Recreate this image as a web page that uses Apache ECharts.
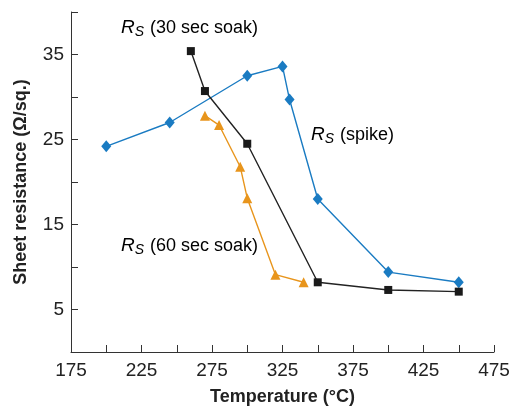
<!DOCTYPE html>
<html>
<head>
<meta charset="utf-8">
<script src="https://cdn.jsdelivr.net/npm/echarts@6/dist/echarts.min.js"></script>
<style>
  html, body { margin: 0; padding: 0; background: #fff; }
  #chart_1 { width: 511px; height: 413px; }
</style>
</head>
<body>
<div id="chart_1"></div>
<script>
// 数据 (温度 °C, 方块电阻 Ω/sq.)
var spikeX = [200, 245, 300, 325, 330, 350, 400, 450];
var spikeY = [24.2, 27.0, 32.5, 33.6, 29.7, 18.0, 9.4, 8.2];

var soak30X = [260, 270, 300, 350, 400, 450];
var soak30Y = [35.4, 30.7, 24.5, 8.2, 7.3, 7.1];

var soak60X = [270, 280, 295, 300, 320, 340];
var soak60Y = [27.8, 26.7, 21.8, 18.1, 9.1, 8.2];

var xTickLabels = [175, 225, 275, 325, 375, 425, 475];
var yTickLabels = [5, 15, 25, 35];

var FONT = "'Liberation Sans', Arial, sans-serif";

function pairs(xs, ys) {
  return xs.map(function (x, i) { return [x, ys[i]]; });
}

var myChart = echarts.init(document.getElementById('chart_1'));

var axisCommon = {
  axisLine: { show: true, lineStyle: { color: '#333', width: 1 } },
  axisTick: { show: true, inside: true, length: 7, lineStyle: { color: '#333', width: 1 } },
  splitLine: { show: false },
  nameTextStyle: { fontFamily: FONT, fontSize: 18, fontWeight: 'bold', color: '#222' }
};

var rich = {
  r: { fontFamily: FONT, fontSize: 19, fontStyle: 'italic', color: '#222' },
  s: { fontFamily: FONT, fontSize: 14, fontStyle: 'italic', color: '#222', padding: [8, 1, 0, 0] },
  t: { fontFamily: FONT, fontSize: 18, color: '#222' }
};

function note(x, y, txt) {
  return {
    type: 'text',
    x: x,
    y: y,
    style: {
      text: '{r|R}{s|S}{t| ' + txt + '}',
      rich: rich,
      verticalAlign: 'middle'
    }
  };
}

var option = {
  animation: false,
  backgroundColor: '#fff',
  grid: { left: 71, right: 17, top: 12, bottom: 61, outerBoundsMode: 'none', containLabel: false },
  xAxis: Object.assign({}, axisCommon, {
    type: 'value',
    min: 175,
    max: 475,
    interval: 25,
    name: 'Temperature (°C)',
    nameLocation: 'middle',
    nameGap: 36,
    axisLabel: {
      margin: 9,
      fontFamily: FONT,
      fontSize: 19,
      color: '#222',
      formatter: function (v) { return xTickLabels.indexOf(v) >= 0 ? String(v) : ''; }
    }
  }),
  yAxis: Object.assign({}, axisCommon, {
    type: 'value',
    min: 0,
    max: 40,
    interval: 5,
    name: 'Sheet resistance (Ω/sq.)',
    nameLocation: 'middle',
    nameGap: 41,
    axisLabel: {
      margin: 7,
      fontFamily: FONT,
      fontSize: 19,
      color: '#222',
      formatter: function (v) { return yTickLabels.indexOf(v) >= 0 ? String(v) : ''; }
    }
  }),
  series: [
    {
      name: 'spike',
      type: 'line',
      data: pairs(spikeX, spikeY),
      symbol: 'diamond',
      symbolSize: [10, 12],
      lineStyle: { color: '#1a7bc2', width: 1.4 },
      itemStyle: { color: '#1a7bc2' }
    },
    {
      name: '30 sec soak',
      type: 'line',
      data: pairs(soak30X, soak30Y),
      symbol: 'rect',
      symbolSize: 8,
      lineStyle: { color: '#222', width: 1.4 },
      itemStyle: { color: '#1a1a1a' }
    },
    {
      name: '60 sec soak',
      type: 'line',
      data: pairs(soak60X, soak60Y),
      symbol: 'triangle',
      symbolSize: 10,
      lineStyle: { color: '#e8951c', width: 1.4 },
      itemStyle: { color: '#e8951c' }
    }
  ],
  graphic: [
    note(121, 28, '(30 sec soak)'),
    note(311, 135, '(spike)'),
    note(121, 246, '(60 sec soak)')
  ]
};

myChart.setOption(option);
window.addEventListener('resize', function () {
  myChart.resize();
});
</script>
</body>
</html>
